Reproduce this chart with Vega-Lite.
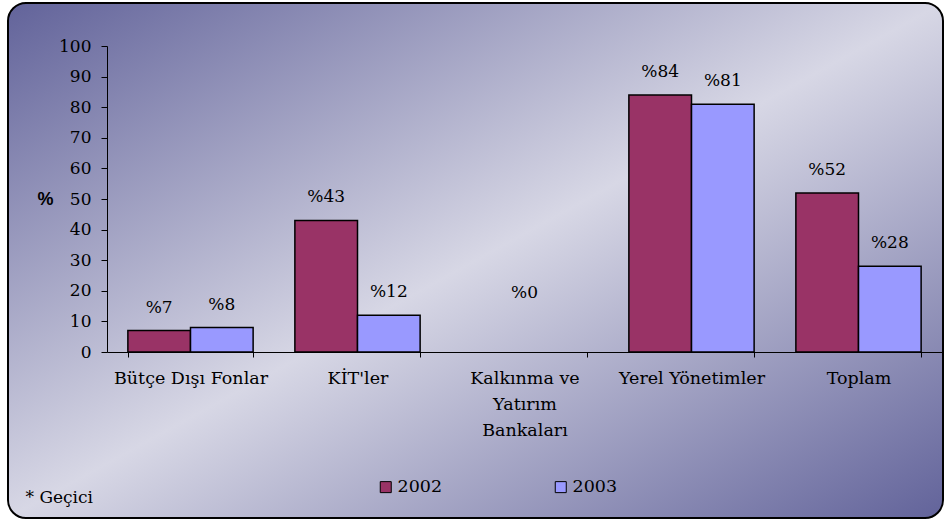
{
  "$schema": "https://vega.github.io/schema/vega-lite/v6.json",
  "width": 935,
  "height": 515,
  "autosize": "none",
  "padding": {"left": 8, "top": 3, "right": 2, "bottom": 4},
  "background": "white",
  "view": {
    "fill": {"gradient": "linear", "x1": 0, "y1": 0, "x2": 1, "y2": 1,
      "stops": [
        {"offset": 0, "color": "#62639A"},
        {"offset": 0.5, "color": "#D7D7E5"},
        {"offset": 1, "color": "#62639A"}
      ]},
    "stroke": "#000000",
    "strokeWidth": 2,
    "cornerRadius": 18
  },
  "config": {"font": "DejaVu Serif"},
  "data": {
    "values": [
      {"category": "Bütçe Dışı Fonlar", "year": "2002", "value": 7, "label": "%7"},
      {"category": "Bütçe Dışı Fonlar", "year": "2003", "value": 8, "label": "%8"},
      {"category": "KİT'ler", "year": "2002", "value": 43, "label": "%43"},
      {"category": "KİT'ler", "year": "2003", "value": 12, "label": "%12"},
      {"category": "Kalkınma ve Yatırım Bankaları", "year": "2002", "value": 0, "label": "%0"},
      {"category": "Kalkınma ve Yatırım Bankaları", "year": "2003", "value": 0, "label": null},
      {"category": "Yerel Yönetimler", "year": "2002", "value": 84, "label": "%84"},
      {"category": "Yerel Yönetimler", "year": "2003", "value": 81, "label": "%81"},
      {"category": "Toplam", "year": "2002", "value": 52, "label": "%52"},
      {"category": "Toplam", "year": "2003", "value": 28, "label": "%28"}
    ]
  },
  "layer": [
    {
      "transform": [{"filter": "datum.value > 0"}],
      "mark": {"type": "bar", "stroke": "#000000", "strokeWidth": 1.5},
      "encoding": {
        "x": {
          "field": "category", "type": "nominal",
          "sort": ["Bütçe Dışı Fonlar", "KİT'ler", "Kalkınma ve Yatırım Bankaları", "Yerel Yönetimler", "Toplam"],
          "scale": {"domain": ["Bütçe Dışı Fonlar", "KİT'ler", "Kalkınma ve Yatırım Bankaları", "Yerel Yönetimler", "Toplam"], "range": [99, 934], "paddingInner": 0.25, "paddingOuter": 0.125},
          "axis": {
            "title": "* Geçici", "titleX": 17, "titleY": 145, "titleAlign": "left", "titleBaseline": "middle",
            "titleFont": "DejaVu Serif", "titleFontSize": 17, "titleFontWeight": "normal", "titleColor": "#000000",
            "labelAngle": 0, "labelFont": "DejaVu Serif", "labelFontSize": 17.5, "labelColor": "#000000",
            "labelPadding": 12, "labelLineHeight": 26, "labelLimit": 0, "labelOverlap": false,
            "labelExpr": "datum.value == 'Kalkınma ve Yatırım Bankaları' ? ['Kalkınma ve', 'Yatırım', 'Bankaları'] : datum.value",
            "tickBand": "extent", "tickSize": 5, "tickColor": "#000000", "domainColor": "#000000",
            "offset": -166
          }
        },
        "xOffset": {"field": "year", "type": "nominal", "scale": {"domain": ["2002", "2003"]}},
        "y": {
          "field": "value", "type": "quantitative",
          "scale": {"domain": [0, 100], "range": [349, 43], "nice": false},
          "axis": {
            "title": "%", "titleAngle": 0, "titleX": -62, "titleY": 196, "titleAlign": "center", "titleBaseline": "middle",
            "titleFont": "Liberation Sans", "titleFontWeight": "bold", "titleFontSize": 18, "titleColor": "#000000",
            "values": [0, 10, 20, 30, 40, 50, 60, 70, 80, 90, 100], "grid": false,
            "labelFont": "DejaVu Serif", "labelFontSize": 17, "labelColor": "#000000", "labelPadding": 10,
            "tickSize": 6, "tickColor": "#000000", "domainColor": "#000000",
            "offset": -99
          }
        },
        "fill": {
          "field": "year", "type": "nominal",
          "scale": {"domain": ["2002", "2003"], "range": ["#993366", "#9999FF"]},
          "legend": {
            "orient": "none", "legendX": 369, "legendY": 475, "direction": "horizontal", "title": null,
            "symbolType": "square", "symbolSize": 121, "symbolStrokeColor": "#000000", "symbolStrokeWidth": 1,
            "labelFont": "DejaVu Serif", "labelFontSize": 17.5, "labelColor": "#000000", "labelOffset": 3,
            "columnPadding": 109, "padding": 0
          }
        }
      }
    },
    {
      "transform": [{"filter": "datum.label != null && datum.category != 'Kalkınma ve Yatırım Bankaları'"}],
      "mark": {"type": "text", "dy": -23, "font": "DejaVu Serif", "fontSize": 17, "color": "#000000", "baseline": "middle"},
      "encoding": {
        "x": {"field": "category", "type": "nominal", "sort": ["Bütçe Dışı Fonlar", "KİT'ler", "Kalkınma ve Yatırım Bankaları", "Yerel Yönetimler", "Toplam"]},
        "xOffset": {"field": "year", "type": "nominal"},
        "y": {"field": "value", "type": "quantitative"},
        "text": {"field": "label"}
      }
    },
    {
      "transform": [{"filter": "datum.label != null && datum.category == 'Kalkınma ve Yatırım Bankaları'"}],
      "mark": {"type": "text", "dy": -59, "font": "DejaVu Serif", "fontSize": 17, "color": "#000000", "baseline": "middle"},
      "encoding": {
        "x": {"field": "category", "type": "nominal", "sort": ["Bütçe Dışı Fonlar", "KİT'ler", "Kalkınma ve Yatırım Bankaları", "Yerel Yönetimler", "Toplam"]},
        "y": {"field": "value", "type": "quantitative"},
        "text": {"field": "label"}
      }
    }
  ]
}
